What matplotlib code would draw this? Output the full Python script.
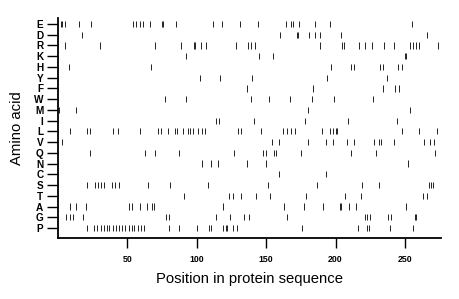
import matplotlib
matplotlib.use("Agg")
import matplotlib.pyplot as plt

amino_acids = ["E", "D", "R", "K", "H", "Y", "F", "W", "M", "I",
               "L", "V", "Q", "N", "C", "S", "T", "A", "G", "P"]

pos_E = [2, 3, 5, 15, 24, 54, 56, 59, 61, 66, 75, 76, 85, 112, 118, 131, 144,
         164, 168, 169, 174, 185, 196, 255, 276]
pos_D = [17, 160, 172, 173, 181, 185, 189, 204, 266]
pos_R = [5, 30, 70, 89, 98, 99, 103, 107, 128, 137, 139, 142, 189, 205, 206,
         217, 221, 226, 235, 242, 254, 256, 258, 260, 274]
pos_K = [92, 145, 155, 250, 251]
pos_H = [8, 67, 197, 211, 213, 232, 234, 245, 248]
pos_Y = [102, 117, 140, 194, 237]
pos_F = [136, 184, 234, 243, 246]
pos_W = [77, 92, 139, 152, 167, 183, 199, 227]
pos_M = [1, 13, 180, 254]
pos_I = [114, 116, 141, 178, 209, 244]
pos_L = [9, 21, 23, 40, 43, 59, 72, 74, 79, 84, 86, 90, 94, 95, 97, 101,
         104, 106, 130, 132, 146, 162, 165, 168, 171, 190, 196, 198, 200, 201,
         248, 260, 273]
pos_V = [3, 154, 159, 180, 193, 198, 208, 213, 228, 231, 233, 242, 264, 268, 271]
pos_Q = [23, 63, 70, 87, 127, 148, 150, 156, 157, 175, 211, 229, 272]
pos_N = [104, 110, 115, 136, 150, 252]
pos_C = [159, 193]
pos_S = [21, 27, 29, 31, 33, 39, 41, 44, 65, 81, 108, 151, 187, 219, 231,
         267, 269, 270]
pos_T = [91, 123, 126, 132, 143, 153, 179, 207, 218, 263, 266]
pos_A = [9, 13, 20, 51, 53, 59, 64, 68, 69, 119, 163, 177, 191, 203, 204,
         210, 215, 251]
pos_G = [6, 9, 11, 18, 78, 80, 114, 124, 134, 138, 165, 221, 223, 225, 238,
         240, 257, 258]
pos_P = [21, 26, 28, 31, 33, 35, 37, 40, 42, 44, 46, 48, 51, 53, 55, 58, 60,
         62, 80, 87, 100, 109, 110, 119, 121, 122, 126, 129, 176, 216, 223,
         224, 239, 256]

positions = [pos_E, pos_D, pos_R, pos_K, pos_H, pos_Y, pos_F, pos_W, pos_M,
             pos_I, pos_L, pos_V, pos_Q, pos_N, pos_C, pos_S, pos_T, pos_A,
             pos_G, pos_P]

x_ticks = [50, 100, 150, 200, 250]

plt.rcParams['font.family'] = ['Liberation Sans', 'DejaVu Sans']

fig = plt.figure(figsize=(4.6, 2.99), dpi=100)
ax = fig.add_axes([0.126, 0.204, 0.8327, 0.736])

n = len(amino_acids)
for i, (aa, xs) in enumerate(zip(amino_acids, positions)):
    y = n - 1 - i
    ax.vlines(xs, y - 0.29, y + 0.29, colors="#222222", linewidth=0.7)

ax.set_xlim(0, 276)
ax.set_ylim(-0.93, n - 1 + 0.56)
ax.set_yticks(range(n))
ax.set_yticklabels(amino_acids[::-1], fontsize=7.2, fontweight="bold")
ax.set_xticks(x_ticks)
ax.set_xticklabels([str(t) for t in x_ticks], fontsize=6.3, fontweight="bold")

for s in ["top", "right"]:
    ax.spines[s].set_visible(False)
for s in ["left", "bottom"]:
    ax.spines[s].set_linewidth(1.3)

ax.tick_params(axis="y", length=8, width=1.0, pad=2.5)
ax.tick_params(axis="x", length=7, width=1.0, pad=5)

ax.set_xlabel("Position in protein sequence", fontsize=10.7, labelpad=6)
ax.set_ylabel("Amino acid", fontsize=10.7, labelpad=7)

fig.savefig("out.png", dpi=100)
